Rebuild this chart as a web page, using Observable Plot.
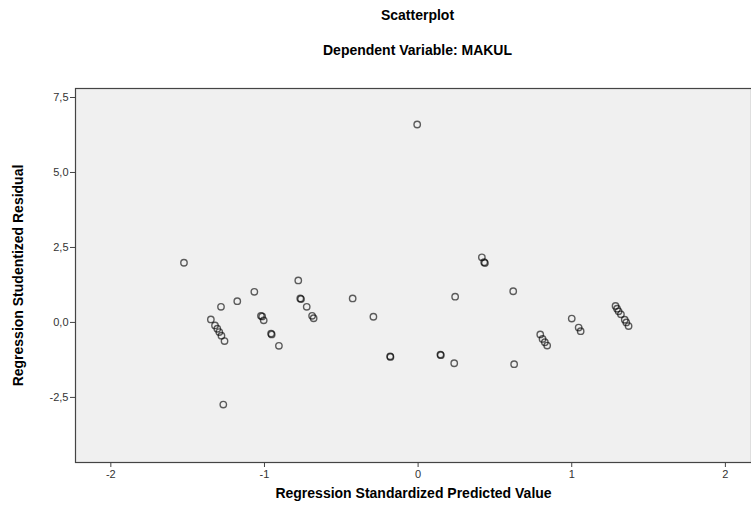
<!DOCTYPE html>
<html>
<head>
<meta charset="utf-8">
<script src="https://cdn.jsdelivr.net/npm/d3@7"></script>
<script src="https://cdn.jsdelivr.net/npm/@observablehq/plot@0.6"></script>
<style>
  body { margin: 0; background: #fff; font-family: Arial, "Liberation Sans", sans-serif; }
  .t { width: 667px; padding-left: 84px; text-align: center; font-weight: bold; font-size: 14px; color: #000; }
</style>
</head>
<body>
<div class="t" style="height:35px; line-height:30px;">Scatterplot</div>
<div class="t" style="height:35px; line-height:30px;">Dependent Variable: MAKUL</div>
<div id="chart"></div>
<script>
const predicted = [
  -1.524, -1.349, -1.322, -1.307, -1.294, -1.28, -1.26, -1.283, -1.268, -1.177,
  -1.066, -1.023, -1.015, -1.005, -0.957, -0.953, -0.906, -0.780, -0.767, -0.762,
  -0.725, -0.69, -0.68, -0.426, -0.291, -0.182, -0.180, -0.006, 0.145, 0.148,
  0.235, 0.241, 0.415, 0.43, 0.435, 0.619, 0.625, 0.795, 0.81, 0.825,
  0.84, 1.0, 1.045, 1.058, 1.285, 1.295, 1.305, 1.32, 1.345, 1.355, 1.37
];
const residual = [
  1.99, 0.10, -0.10, -0.21, -0.32, -0.44, -0.62, 0.52, -2.74, 0.71,
  1.02, 0.22, 0.20, 0.07, -0.37, -0.40, -0.78, 1.40, 0.80, 0.78,
  0.52, 0.22, 0.14, 0.80, 0.19, -1.13, -1.15, 6.60, -1.07, -1.09,
  -1.36, 0.86, 2.17, 2.01, 1.98, 1.04, -1.39, -0.40, -0.55, -0.66,
  -0.77, 0.13, -0.17, -0.29, 0.55, 0.46, 0.37, 0.27, 0.09, 0.00, -0.12
];
const xTicks = [-2, -1, 0, 1, 2];
const yTicks = [-2.5, 0, 2.5, 5, 7.5];
const xLabel = "Regression Standardized Predicted Value";
const yLabel = "Regression Studentized Residual";

const data = predicted.map((x, i) => ({x, y: residual[i]}));

const chart = Plot.plot({
  width: 751,
  height: 437,
  marginTop: 18,
  marginBottom: 45,
  marginLeft: 75,
  marginRight: 0,
  style: {fontFamily: "Arial, 'Liberation Sans', sans-serif", background: "#fff"},
  x: {domain: [-2.23, 2.17]},
  y: {domain: [-4.67, 7.8]},
  marks: [
    Plot.frame({fill: "#f0f0f0", stroke: "none"}),
    Plot.axisX({ticks: xTicks, tickSize: 5, tickPadding: 3, fontSize: 11, color: "#333", stroke: "#444", label: null, tickFormat: d => String(d)}),
    Plot.axisY({ticks: yTicks, tickSize: 5, tickPadding: 2, fontSize: 11, color: "#333", stroke: "#444", label: null, tickFormat: d => d.toFixed(1).replace(".", ",")}),
    Plot.dot(data, {x: "x", y: "y", r: 3.2, stroke: "#000", strokeOpacity: 0.62, strokeWidth: 1.4, fill: "none"}),
    Plot.frame({stroke: "#444", strokeWidth: 1.2}),
    Plot.text([xLabel], {frameAnchor: "bottom", dy: 35, fontSize: 14, fontWeight: "bold", fill: "#000", text: d => d}),
    Plot.text([yLabel], {frameAnchor: "left", textAnchor: "middle", dx: -57, rotate: -90, fontSize: 14, fontWeight: "bold", fill: "#000", text: d => d})
  ]
});
document.getElementById("chart").appendChild(chart);
</script>
</body>
</html>
